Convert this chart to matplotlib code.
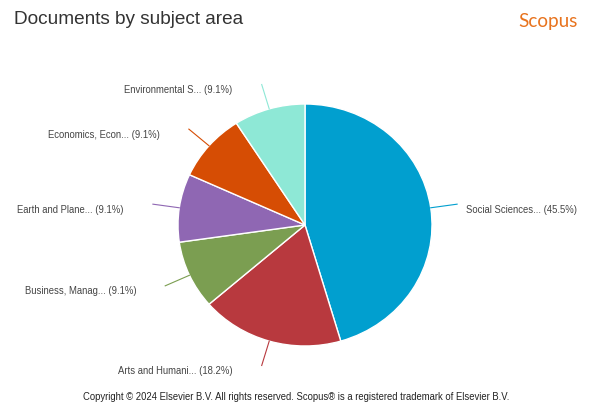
import numpy as np
import matplotlib.pyplot as plt

subjects = ['Social Sciences...', 'Arts and Humani...', 'Business, Manag...',
            'Earth and Plane...', 'Economics, Econ...', 'Environmental S...']
shares = [45.5, 18.2, 9.1, 9.1, 9.1, 9.1]
colors = ['#019fcf', '#b8393e', '#7b9e51', '#8f67b3', '#d64d04', '#8ee8d6']

W, H = 592, 407
plt.rcParams['font.family'] = ['Liberation Sans', 'DejaVu Sans']

fig = plt.figure(figsize=(W / 100, H / 100), dpi=100)
fig.patch.set_facecolor('white')

# pie box in pixels (x 178..432, y 104..346 from the top)
ax = fig.add_axes([178 / W, 1 - 346 / H, 254 / W, 242 / H])
wedges, _ = ax.pie(shares, colors=colors, startangle=90, counterclock=False,
                   wedgeprops=dict(edgecolor='white', linewidth=1))
for w in wedges:
    w.set_clip_on(False)
ax.set_aspect('auto')
ax.set_xlim(-1, 1)
ax.set_ylim(-1, 1)
ax.axis('off')

# connectors and labels
px_x, px_y = 2 / 254, 2 / 242
for w, name, pct, c in zip(wedges, subjects, shares, colors):
    mid = np.deg2rad((w.theta1 + w.theta2) / 2)
    x0, y0 = np.cos(mid), np.sin(mid)
    x1, y1 = 1.21 * x0, 1.21 * y0
    ax.plot([x0, x1], [y0, y1], color=c, lw=0.8, clip_on=False)
    if x1 < 0:
        tx, ha = x1 - 29 * px_x, 'right'
    else:
        tx, ha = x1 + 9 * px_x, 'left'
    ax.text(tx, y1 - 5.5 * px_y, f'{name} ({pct}%)', ha=ha, va='center',
            fontsize=6.85, color='#444444', clip_on=False)

fig.text(14 / W, 1 - 19 / H, 'Documents by subject area', ha='left', va='center',
         fontsize=13.7, color='#333333')
fig.text(578 / W, 1 - 21 / H, 'Scopus', ha='right', va='center',
         fontsize=13.6, color='#e8731e', family=['Lato', 'DejaVu Sans'])
fig.text(296 / W, 1 - 397 / H,
         'Copyright \u00a9 2024 Elsevier B.V. All rights reserved. '
         'Scopus\u00ae is a registered trademark of Elsevier B.V.',
         ha='center', va='center', fontsize=6.85, color='#222222')

fig.savefig('out.png', dpi=100, facecolor='white')
